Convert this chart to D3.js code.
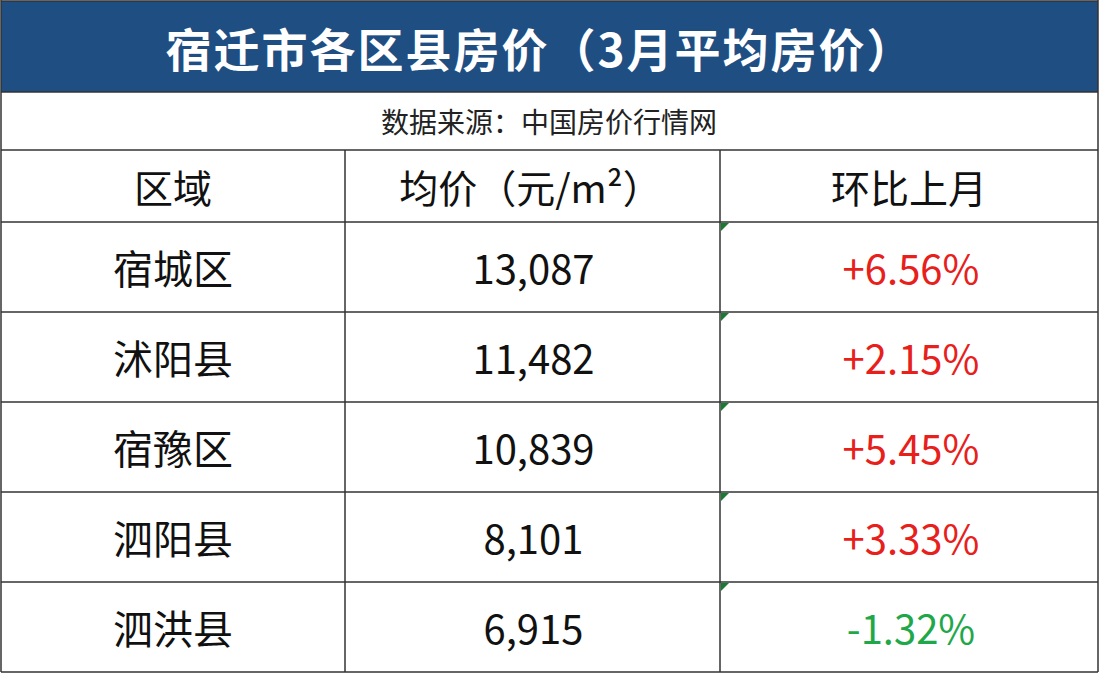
<!DOCTYPE html><html><head><meta charset="utf-8">
<script src="https://cdn.jsdelivr.net/npm/d3@7"></script>
<style>body{margin:0;background:#fff}</style></head><body>
<script>
const title = "宿迁市各区县房价（3月平均房价）";
const source = "数据来源：中国房价行情网";
const headers = ["区域", "均价（元/m²）", "环比上月"];
const districts = ["宿城区", "沭阳县", "宿豫区", "泗阳县", "泗洪县"];
const prices = [13087, 11482, 10839, 8101, 6915];
const changes = [6.56, 2.15, 5.45, 3.33, -1.32];

const W = 1100, H = 676;
const svg = d3.select("body").append("svg").attr("width", W).attr("height", H);
const font = "'Noto Sans CJK SC', 'Noto Sans', sans-serif";
const colEdges = [1, 345, 720, 1098];
const rowY = d3.scaleBand().domain(d3.range(5)).range([222, 672]);

svg.append("rect").attr("x",1).attr("y",1).attr("width",1097).attr("height",91).attr("fill","#1f4e82");
svg.append("text").attr("x",540).attr("y",47).attr("text-anchor","middle").attr("dominant-baseline","central")
  .attr("fill","#fff").attr("font-family",font).attr("font-weight","bold").attr("font-size",46).attr("letter-spacing",2).text(title);
svg.append("text").attr("x",549).attr("y",121).attr("text-anchor","middle").attr("dominant-baseline","central")
  .attr("fill","#222").attr("font-family",font).attr("font-size",28).text(source);

const line = (x1,y1,x2,y2)=>svg.append("line").attr("x1",x1).attr("y1",y1).attr("x2",x2).attr("y2",y2).attr("stroke","#333").attr("stroke-width",1.5);
line(1,92,1098,92); line(1,150,1098,150); line(1,222,1098,222);
rowY.domain().forEach(i=>line(1,rowY(i)+rowY.bandwidth(),1098,rowY(i)+rowY.bandwidth()));
line(1,0,1,672); line(1098,0,1098,672); line(1,1,1098,1);
[345,720].forEach(x=>line(x,150,x,672));

const cx = i => (colEdges[i]+colEdges[i+1])/2;
headers.forEach((h,i)=>svg.append("text").attr("x",cx(i)+(i==1?-2:0)).attr("y",186).attr("text-anchor","middle").attr("dominant-baseline","central")
  .attr("font-family",font).attr("font-size",39).attr("fill","#111").text(h));

const fmt = d3.format(",");
const g = svg.selectAll("g.row").data(districts).join("g");
g.each(function(d,i){
  const y = rowY(i)+rowY.bandwidth()/2;
  const s = d3.select(this);
  s.append("text").attr("x",cx(0)).attr("y",y).attr("text-anchor","middle").attr("dominant-baseline","central")
   .attr("font-family",font).attr("font-size",40).attr("fill","#111").text(d);
  s.append("text").attr("x",cx(1)+1).attr("y",y).attr("text-anchor","middle").attr("dominant-baseline","central")
   .attr("font-family",font).attr("font-size",40).attr("fill","#111").text(fmt(prices[i]));
  const c = changes[i];
  s.append("text").attr("x",cx(2)+2).attr("y",y).attr("text-anchor","middle").attr("dominant-baseline","central")
   .attr("font-family",font).attr("font-size",40).attr("fill",c>=0?"#e8201c":"#1fa84a")
   .text((c>=0?"+":"-")+Math.abs(c).toFixed(2)+"%");
  const ty = rowY(i);
  s.append("path").attr("d",`M${721},${ty+1}L${729},${ty+1}L${721},${ty+9}Z`).attr("fill","#1a7a30");
});
</script></body></html>
